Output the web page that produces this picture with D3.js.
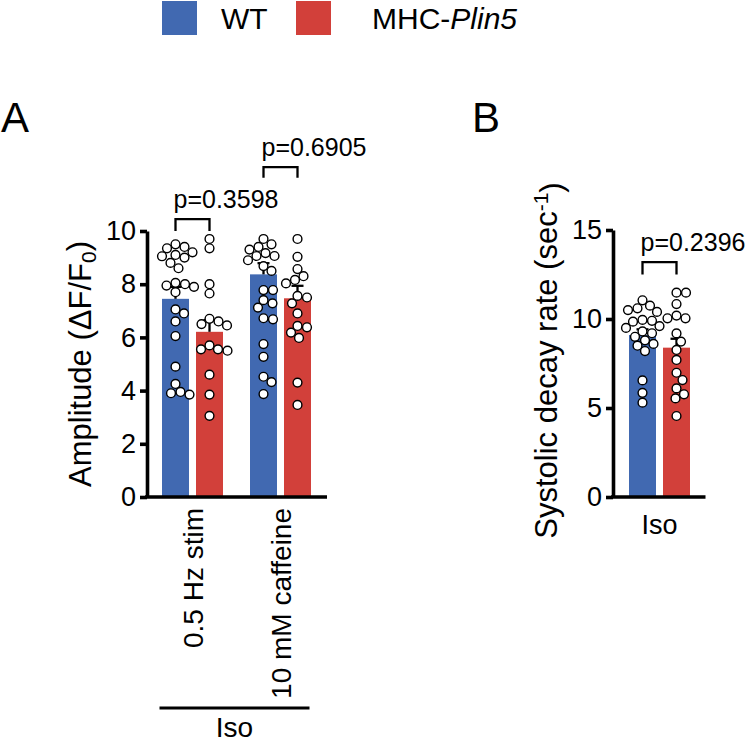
<!DOCTYPE html>
<html><head><meta charset="utf-8">
<script src="https://cdn.jsdelivr.net/npm/d3@7"></script>
<style>
body{margin:0;background:#fff}
svg{display:block}
text{font-family:"Liberation Sans",Arial,Helvetica,sans-serif;fill:#000}
</style>
</head><body>
<svg id="c" width="745" height="742"></svg>
<script>
// ---------- data ----------
const genotypes = ["WT", "MHC-Plin5"];
const genoColors = ["#4169b1", "#d2403a"];
const conditionsA = ["0.5 Hz stim", "10 mM caffeine"];
const groupLabelA = "Iso";
const conditionsB = ["Iso"];

const meanA_WT = [7.45, 8.37];
const semA_WT  = [0.45, 0.42];
const meanA_KO = [6.21, 7.47];
const semA_KO  = [0.44, 0.47];

const ptsA_WT_stim = [9.5, 9.4, 9.35, 9.2, 9.1, 9.05, 9.0, 8.8, 8.6, 8.05, 8.0, 7.95, 7.9, 7.7, 7.05, 6.9, 6.6, 6.05, 4.9, 4.25, 3.95, 3.9, 3.85];
const ptsA_KO_stim = [9.7, 9.35, 8.0, 7.65, 6.7, 6.6, 6.5, 6.45, 5.7, 5.55, 5.55, 5.5, 4.6, 3.85, 3.05];
const ptsA_WT_caff = [9.7, 9.5, 9.4, 9.3, 9.17, 9.06, 9.06, 8.9, 8.68, 8.5, 7.78, 7.78, 7.4, 7.28, 7.12, 6.72, 6.68, 5.75, 5.27, 4.52, 4.32, 3.87];
const ptsA_KO_caff = [9.7, 9.03, 8.57, 8.3, 8.16, 8.03, 7.56, 7.5, 7.28, 6.9, 6.43, 6.38, 6.18, 5.98, 4.3, 3.46];

const meanB = [9.1, 8.39];
const semB  = [0.32, 0.5];
const ptsB_WT = [11.05, 10.75, 10.6, 10.5, 10.4, 9.95, 9.9, 9.85, 9.6, 9.5, 9.3, 9.2, 9.0, 8.8, 8.6, 8.5, 8.2, 6.55, 5.85, 5.3];
const ptsB_KO = [11.48, 11.48, 10.84, 10.19, 10.04, 10.04, 9.19, 8.73, 8.26, 7.7, 6.98, 6.57, 6.1, 5.77, 5.54, 4.55];

const pValuesA = ["p=0.3598", "p=0.6905"];
const pValueB = "p=0.2396";
const ticksA = [0, 2, 4, 6, 8, 10];
const ticksB = [0, 5, 10, 15];
const titleA = "Amplitude (ΔF/F";
const titleB = "Systolic decay rate (sec";

// ---------- layout ----------
const svg = d3.select("#c");
const FONT_TICK = 27, FONT_TITLE = 31, FONT_CAT = 28, FONT_P = 25;
const R = 4.4;

const yA = d3.scaleLinear().domain([0, 10]).range([497, 231]);
const yB = d3.scaleLinear().domain([0, 15]).range([497, 230]);
const xA = d3.scalePoint().domain(conditionsA).range([192.5, 280.5]);
const xB = d3.scalePoint().domain(conditionsB).range([659.5, 659.5]);
const xInner = d3.scaleBand().domain(genotypes).range([-30.5, 30.5]).paddingInner(0.206);
const bw = xInner.bandwidth();

function beeswarm(values, cx, y, r) {
  const placed = [];
  const sorted = values.map(v => ({v, y: y(v)})).sort((a, b) => a.y - b.y);
  const minD = 2 * r + 0.4;
  sorted.forEach(p => {
    let best = null;
    for (let k = 0; k < 200 && best === null; k++) {
      const cands = k === 0 ? [0] : [k * 0.5, -k * 0.5];
      for (const dx of cands) {
        const ok = placed.every(q => Math.hypot(q.x - (cx + dx), q.y - p.y) >= minD);
        if (ok) { best = cx + dx; break; }
      }
    }
    placed.push({x: best, y: p.y, v: p.v});
  });
  return placed;
}

function drawAxisY(g, y, ticks, x) {
  const ax = d3.axisLeft(y).tickValues(ticks).tickSize(7).tickSizeOuter(0).tickPadding(4);
  const a = g.append("g").attr("transform", `translate(${x},0)`).call(ax);
  a.select(".domain").attr("stroke", "#000").attr("stroke-width", 3.6);
  a.selectAll(".tick line").attr("stroke", "#000").attr("stroke-width", 3.6);
  a.selectAll(".tick text").style("font-size", FONT_TICK + "px")
    .style("font-family", '"Liberation Sans",Arial,sans-serif').attr("fill", "#000");
}

function drawBar(g, cx, y, mean, sem, color, pts) {
  const x0 = cx;
  g.append("rect").attr("x", x0).attr("y", y(mean)).attr("width", bw)
    .attr("height", y(0) - y(mean)).attr("fill", color);
  const c = x0 + bw / 2;
  g.append("line").attr("x1", c).attr("x2", c).attr("y1", y(mean)).attr("y2", y(mean + sem))
    .attr("stroke", "#000").attr("stroke-width", 2.3);
  g.append("line").attr("x1", c - 6).attr("x2", c + 6).attr("y1", y(mean + sem)).attr("y2", y(mean + sem))
    .attr("stroke", "#000").attr("stroke-width", 2.3);
  const placed = beeswarm(pts, c, y, R);
  g.selectAll(null).data(placed).enter().append("circle")
    .attr("cx", d => d.x).attr("cy", d => d.y).attr("r", R)
    .attr("fill", "#fff").attr("stroke", "#000").attr("stroke-width", 1.4);
}

function bracket(g, x1, x2, yTop, yBot, label) {
  g.append("path").attr("d", `M${x1},${yBot}V${yTop}H${x2}V${yBot}`)
    .attr("fill", "none").attr("stroke", "#000").attr("stroke-width", 2.3);
  g.append("text").attr("x", x1 - 2).attr("y", yTop - 11).text(label)
    .style("font-size", FONT_P + "px");
}

// ---------- legend ----------
const leg = svg.append("g");
const legX = [162, 296];
genotypes.forEach((gname, i) => {
  leg.append("rect").attr("x", legX[i]).attr("y", 1).attr("width", 35).attr("height", 34).attr("fill", genoColors[i]);
});
leg.append("text").attr("x", 221).attr("y", 29).style("font-size", "30px").text(genotypes[0]);
const t2 = leg.append("text").attr("x", 372).attr("y", 29).style("font-size", "30px");
t2.append("tspan").text("MHC-");
t2.append("tspan").style("font-style", "italic").text("Plin5");

// ---------- panel A ----------
const gA = svg.append("g");
gA.append("text").attr("x", 1).attr("y", 132).style("font-size", "42px").text("A");

const dataA = [
  [ptsA_WT_stim, ptsA_KO_stim],
  [ptsA_WT_caff, ptsA_KO_caff]
];
conditionsA.forEach((cond, ci) => {
  const cx = xA(cond);
  drawBar(gA, cx + xInner(genotypes[0]), yA, meanA_WT[ci], semA_WT[ci], genoColors[0], dataA[ci][0]);
  drawBar(gA, cx + xInner(genotypes[1]), yA, meanA_KO[ci], semA_KO[ci], genoColors[1], dataA[ci][1]);
});
drawAxisY(gA, yA, ticksA, 147);
gA.append("line").attr("x1", 145).attr("x2", xA(conditionsA[1]) + 46.5).attr("y1", yA(0)).attr("y2", yA(0))
  .attr("stroke", "#000").attr("stroke-width", 3.6);
conditionsA.forEach(cond => {
  gA.append("text").attr("transform", `translate(${xA(cond)},${yA(0) + 11}) rotate(-90)`)
    .attr("text-anchor", "end").attr("dy", "0.36em").style("font-size", FONT_CAT + "px").text(cond);
});
const gc = (xA(conditionsA[0]) + xA(conditionsA[1])) / 2;
gA.append("line").attr("x1", gc - 77).attr("x2", gc + 73).attr("y1", 708).attr("y2", 708)
  .attr("stroke", "#000").attr("stroke-width", 3.2);
gA.append("text").attr("x", gc - 2).attr("y", 737).attr("text-anchor", "middle")
  .style("font-size", FONT_CAT + "px").text(groupLabelA);
const tA = gA.append("text").attr("transform", `translate(91,${(yA(0) + yA(10)) / 2}) rotate(-90)`)
  .attr("text-anchor", "middle").style("font-size", FONT_TITLE + "px");
tA.append("tspan").text(titleA);
tA.append("tspan").attr("dy", "0.25em").style("font-size", "21px").text("0");
tA.append("tspan").attr("dy", "-0.25em").text(")");
const bA = [[10.0, 10.45], [12.0, 12.4]];
conditionsA.forEach((cond, ci) => {
  const cx = xA(cond);
  bracket(gA, cx + xInner(genotypes[0]) + bw / 2, cx + xInner(genotypes[1]) + bw / 2,
    yA(bA[ci][1]), yA(bA[ci][0]), pValuesA[ci]);
});

// ---------- panel B ----------
const gB = svg.append("g");
gB.append("text").attr("x", 472).attr("y", 132).style("font-size", "42px").text("B");
const cxB = xB(conditionsB[0]);
drawBar(gB, cxB + xInner(genotypes[0]), yB, meanB[0], semB[0], genoColors[0], ptsB_WT);
drawBar(gB, cxB + xInner(genotypes[1]), yB, meanB[1], semB[1], genoColors[1], ptsB_KO);
drawAxisY(gB, yB, ticksB, 613);
gB.append("line").attr("x1", 611).attr("x2", cxB + 46).attr("y1", yB(0)).attr("y2", yB(0))
  .attr("stroke", "#000").attr("stroke-width", 3.6);
gB.append("text").attr("x", cxB).attr("y", 534).attr("text-anchor", "middle")
  .style("font-size", "27px").text(conditionsB[0]);
const tB = gB.append("text").attr("transform", `translate(557,${(yB(0) + yB(15)) / 2 - 3}) rotate(-90)`)
  .attr("text-anchor", "middle").style("font-size", FONT_TITLE + "px");
tB.append("tspan").text(titleB);
tB.append("tspan").attr("dy", "-0.45em").style("font-size", "21px").text("-1");
tB.append("tspan").attr("dy", "0.45em").text(")");
bracket(gB, cxB + xInner(genotypes[0]) + bw / 2, cxB + xInner(genotypes[1]) + bw / 2,
  yB(13.2), yB(12.5), pValueB);
</script>
</body></html>
